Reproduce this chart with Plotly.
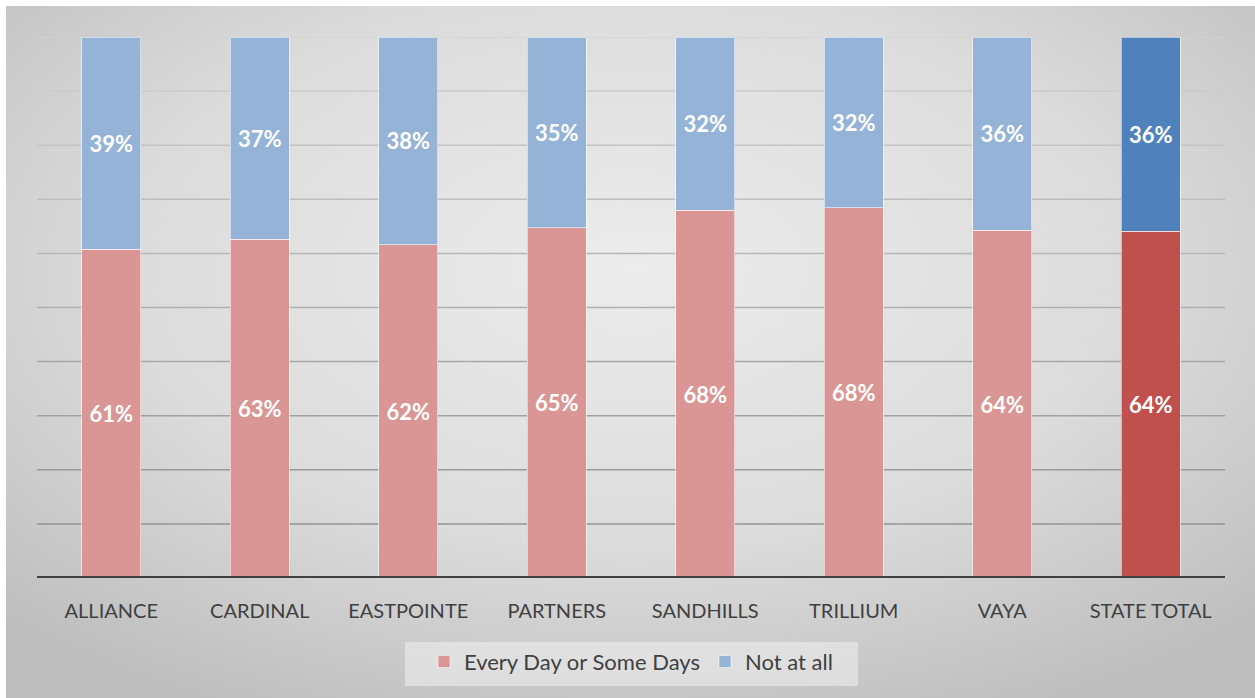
import plotly.graph_objects as go

categories = ["ALLIANCE", "CARDINAL", "EASTPOINTE", "PARTNERS", "SANDHILLS", "TRILLIUM", "VAYA", "STATE TOTAL"]
every_day = [60.8, 62.6, 61.6, 64.7, 68.0, 68.4, 64.3, 64.1]
not_at_all = [39.2, 37.4, 38.4, 35.3, 32.0, 31.6, 35.7, 35.9]
grid_vals = [10, 20, 30, 40, 50, 60, 70, 80, 90, 100]

pink, pink_state = "#da9694", "#c0504d"
blue, blue_state = "#95b3d7", "#4f81bd"

W, H = 1255, 698
ml, mr, mt, mb = 37, 30, 37, 120
pw, ph = W - ml - mr, H - mt - mb

font_fam = "Lato, 'Open Sans', sans-serif"

fig = go.Figure()
fig.add_trace(go.Bar(
    name="Every Day or Some Days", x=categories, y=every_day,
    marker=dict(color=[pink] * 7 + [pink_state], line=dict(color="rgba(255,255,255,0.55)", width=1)),
    text=[f"{round(v)}%" for v in every_day], textposition="inside", insidetextanchor="middle",
    textfont=dict(color="white", size=22, family=font_fam, weight="bold"),
))
fig.add_trace(go.Bar(
    name="Not at all", x=categories, y=not_at_all,
    marker=dict(color=[blue] * 7 + [blue_state], line=dict(color="rgba(255,255,255,0.55)", width=1)),
    text=[f"{round(v)}%" for v in not_at_all], textposition="inside", insidetextanchor="middle",
    textfont=dict(color="white", size=22, family=font_fam, weight="bold"),
))

svg = (
    "data:image/svg+xml;utf8,"
    "<svg xmlns='http://www.w3.org/2000/svg' width='1249' height='692' preserveAspectRatio='none'>"
    "<defs><radialGradient id='g' cx='50%' cy='38%' r='72%'>"
    "<stop offset='0' stop-color='%23ececec'/><stop offset='0.55' stop-color='%23dcdcdc'/>"
    "<stop offset='1' stop-color='%23bdbdbd'/></radialGradient></defs>"
    "<rect width='1249' height='692' fill='url(%23g)'/></svg>"
)

fig.add_layout_image(dict(
    source=svg, xref="paper", yref="paper",
    x=(6 - ml) / pw, y=1 + (mt - 6) / ph,
    sizex=(W - 6) / pw, sizey=(H - 6) / ph,
    sizing="stretch", xanchor="left", yanchor="top", layer="below",
))

shapes = []
for v in grid_vals:
    t = v / 100.0
    c = int(140 + (210 - 140) * t)
    shapes.append(dict(type="line", xref="paper", yref="y", x0=0, x1=1, y0=v, y1=v,
                       line=dict(color=f"rgb({c},{c},{c})", width=1.5), layer="below"))
shapes.append(dict(type="line", xref="paper", yref="y", x0=0, x1=1, y0=0, y1=0,
                   line=dict(color="#404040", width=4), layer="above"))
# legend background box
shapes.append(dict(type="rect", xref="paper", yref="paper",
                   x0=(405 - ml) / pw, x1=(858 - ml) / pw,
                   y0=-(686 - (H - mb)) / ph, y1=-(642 - (H - mb)) / ph,
                   fillcolor="rgba(236,236,236,0.6)", line=dict(width=0), layer="below"))

fig.update_layout(
    width=W, height=H,
    margin=dict(l=ml, r=mr, t=mt, b=mb),
    barmode="stack", bargap=0.6,
    paper_bgcolor="white", plot_bgcolor="rgba(0,0,0,0)",
    font=dict(family=font_fam, color="#404040"),
    shapes=shapes,
    showlegend=True,
    legend=dict(orientation="h", x=0.5, xanchor="center", y=-0.116, yanchor="top",
                traceorder="normal",
                bgcolor="rgba(0,0,0,0)", font=dict(size=22, color="#404040", family=font_fam),
                itemwidth=30, borderwidth=0),
    xaxis=dict(showgrid=False, showline=False, ticks="", tickfont=dict(size=20, color="#404040"),
               ticklabelstandoff=19),
    yaxis=dict(range=[0, 100], showgrid=False, showticklabels=False, zeroline=False, showline=False),
)

fig.write_html("out.html", config={"displayModeBar": False},
               post_script="document.body.style.margin='0';document.body.style.padding='0';")
